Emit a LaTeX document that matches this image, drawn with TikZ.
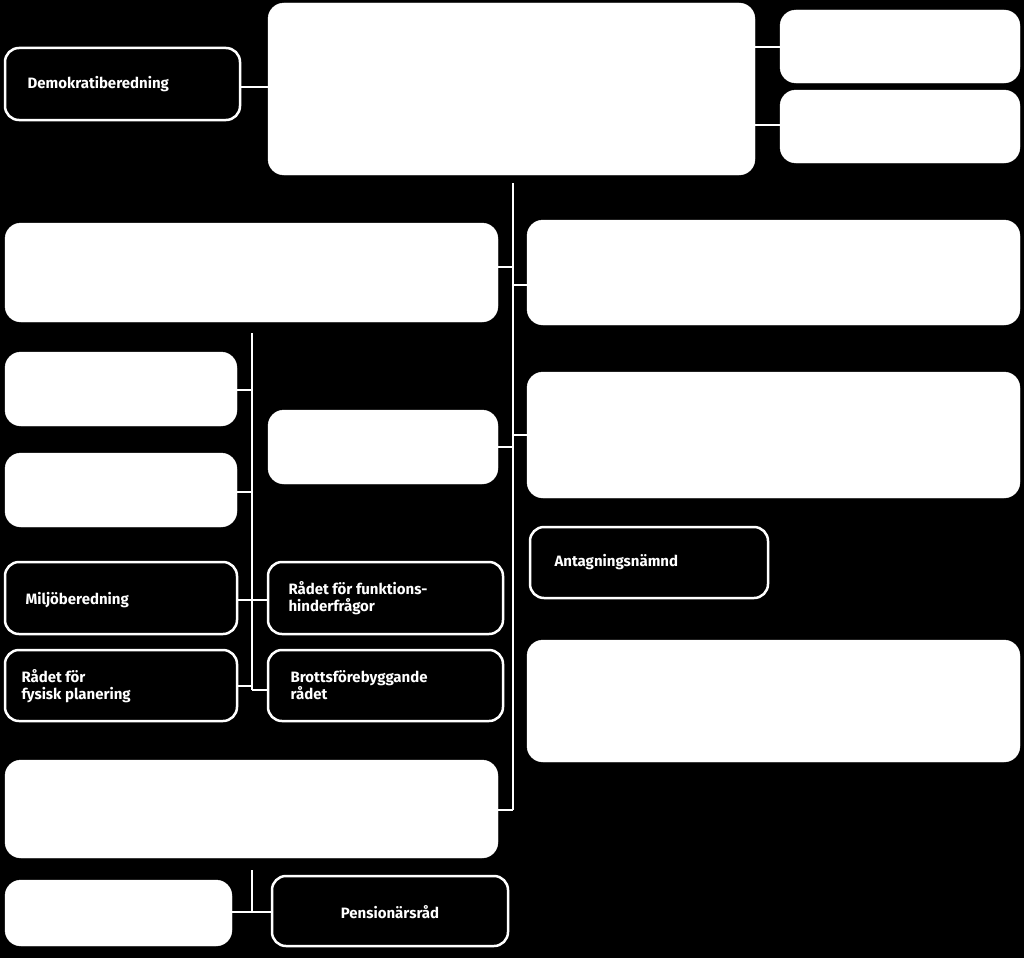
\documentclass[tikz,border=0pt]{standalone}
\usepackage{fontspec}
\setmainfont{Fira Sans}
\begin{document}
\begin{tikzpicture}[x=1pt,y=-1pt,
  wbox/.style={draw=white,fill=white,rounded corners=16pt},
  bbox/.style={draw=white,line width=2.5pt,fill=black,rounded corners=14pt},
  lbl/.style={text=white,font=\fontsize{15}{17}\selectfont\bfseries,align=left,anchor=west},
  link/.style={draw=white,line width=2.5pt}]
  \fill[black] (0,0) rectangle (1024,958);
  % white boxes
  \draw[wbox] (268,3) rectangle (755,175);
  \draw[wbox] (780,10) rectangle (1020,83);
  \draw[wbox] (780,90) rectangle (1020,163);
  \draw[wbox] (5,223) rectangle (498,322);
  \draw[wbox] (527,220) rectangle (1020,325);
  \draw[wbox] (527,372) rectangle (1020,498);
  \draw[wbox] (527,640) rectangle (1020,762);
  \draw[wbox] (5,760) rectangle (498,858);
  \draw[wbox] (5,352) rectangle (237,426);
  \draw[wbox] (5,453) rectangle (237,527);
  \draw[wbox] (268,410) rectangle (498,484);
  \draw[wbox] (5,880) rectangle (232,946);
  % outlined boxes
  \draw[bbox] (5,48) rectangle (240,120);
  \node[lbl] at (24,84) {Demokratiberedning};
  \draw[bbox] (530,527) rectangle (768,598);
  \node[lbl] at (551,562) {Antagningsnämnd};
  \draw[bbox] (5,562) rectangle (237,634);
  \node[lbl] at (22,600) {Miljöberedning};
  \draw[bbox] (5,650) rectangle (237,721);
  \node[lbl] at (18,686) {Rådet för\\fysisk planering};
  \draw[bbox] (268,562) rectangle (503,634);
  \node[lbl] at (285,598) {Rådet för funktions-\\hinderfrågor};
  \draw[bbox] (268,650) rectangle (503,721);
  \node[lbl] at (287,685) {Brottsförebyggande\\rådet};
  \draw[bbox] (272,876) rectangle (508,946);
  \node[lbl,anchor=center] at (390,912) {Pensionärsråd};
  % connectors
  \draw[link] (240,87) -- (268,87);
  \draw[link] (755,47) -- (780,47);
  \draw[link] (755,125) -- (780,125);
  \draw[link] (513,183) -- (513,810);
  \draw[link] (498,267) -- (513,267);
  \draw[link] (513,285) -- (527,285);
  \draw[link] (513,435) -- (527,435);
  \draw[link] (498,447) -- (513,447);
  \draw[link] (498,810) -- (513,810);
  \draw[link] (252,333) -- (252,690);
  \draw[link] (237,390) -- (252,390);
  \draw[link] (237,492) -- (252,492);
  \draw[link] (237,600) -- (252,600);
  \draw[link] (237,686) -- (252,686);
  \draw[link] (252,600) -- (268,600);
  \draw[link] (252,690) -- (268,690);
  \draw[link] (252,870) -- (252,912);
  \draw[link] (232,912) -- (272,912);
\end{tikzpicture}
\end{document}
